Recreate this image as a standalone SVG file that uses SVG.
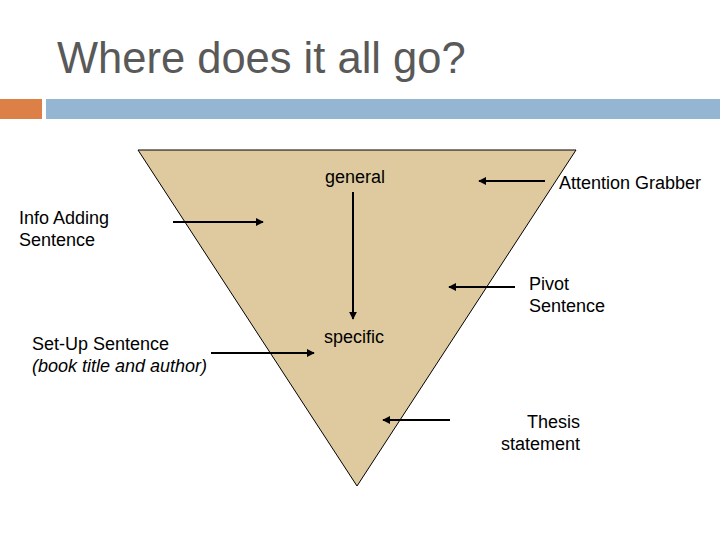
<svg xmlns="http://www.w3.org/2000/svg" width="720" height="540" viewBox="0 0 720 540">
<style>
.t{font-family:"Liberation Sans",Arial,sans-serif;font-size:18px;fill:#000}
.c{stroke:#000;stroke-width:2;fill:none;marker-end:url(#ah)}
</style>
<defs>
<marker id="ah" viewBox="0 0 10 10" refX="9" refY="5" markerWidth="4" markerHeight="4" orient="auto" markerUnits="strokeWidth">
<path d="M0,0 L10,5 L0,10 z" fill="#000"/>
</marker>
</defs>
<rect width="720" height="540" fill="#fff"/>
<text x="57" y="73" font-family="Liberation Sans,Arial,sans-serif" font-size="43.5" fill="#595959">Where does it all go?</text>
<rect x="0" y="99" width="42" height="20" fill="#DD8047"/>
<rect x="46" y="99" width="674" height="20" fill="#94B6D2"/>
<g id="funnel">
<polygon points="138,150 576,150 357,486" fill="#DFCA9F" stroke="#000" stroke-width="1"/>
</g>
<g id="general"><text class="t" x="325" y="183">general</text></g>
<g id="specific"><text class="t" x="324" y="343">specific</text></g>
<g id="attention"><text class="t" x="559" y="189">Attention Grabber</text></g>
<g id="info"><text class="t" x="19" y="224">Info Adding</text><text class="t" x="19" y="246">Sentence</text></g>
<g id="pivot"><text class="t" x="529" y="290">Pivot</text><text class="t" x="529" y="312">Sentence</text></g>
<g id="setup"><text class="t" x="32" y="350">Set-Up Sentence</text><text class="t" x="32" y="372" font-style="italic">(book title and author)</text></g>
<g id="thesis"><text class="t" x="580" y="428" text-anchor="end">Thesis</text><text class="t" x="580" y="450" text-anchor="end">statement</text></g>
<g id="connectors">
<line class="c" x1="545" y1="181" x2="479" y2="181"/>
<line class="c" x1="353" y1="192" x2="353" y2="319"/>
<line class="c" x1="173" y1="222" x2="263" y2="222"/>
<line class="c" x1="515" y1="287" x2="449" y2="287"/>
<line class="c" x1="211" y1="353" x2="314" y2="353"/>
<line class="c" x1="450" y1="420" x2="383" y2="420"/>
</g>
</svg>
